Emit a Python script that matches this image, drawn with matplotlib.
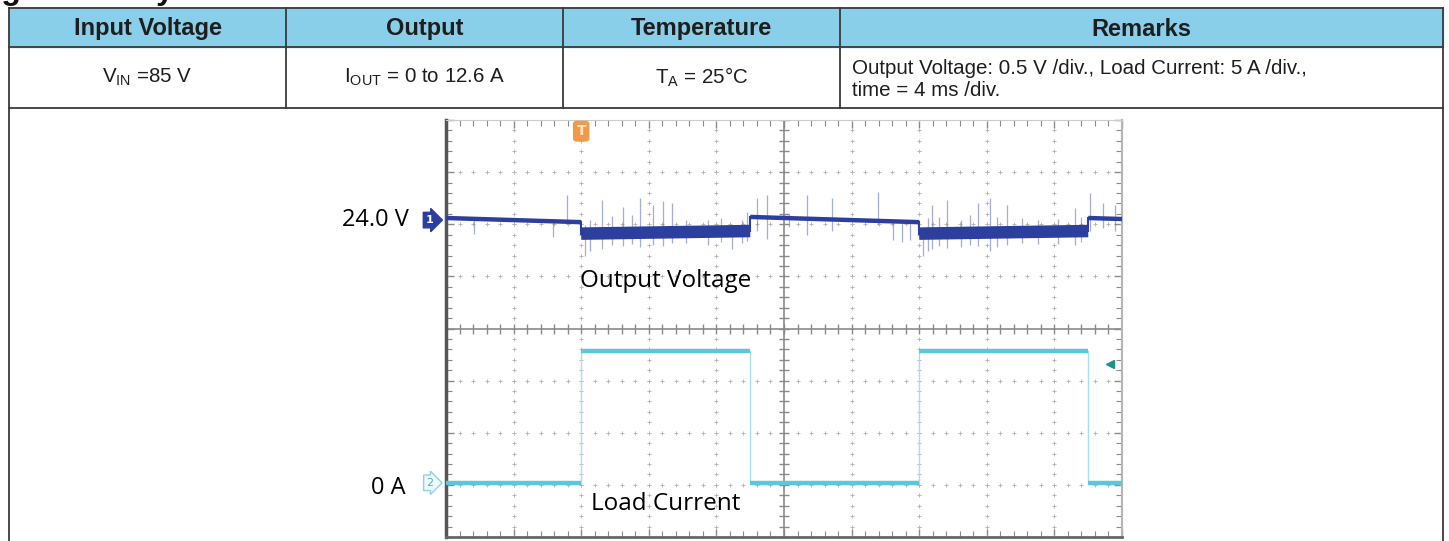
import matplotlib
matplotlib.use("Agg")
import matplotlib.pyplot as plt
import numpy as np

plt.rcParams['mathtext.fontset'] = 'custom'
plt.rcParams['mathtext.rm'] = 'Liberation Sans'
plt.rcParams['mathtext.bf'] = 'Liberation Sans:bold'

# Tabela de condições
headers = ["Input Voltage", "Output", "Temperature", "Remarks"]
conditions = [r"V$_{\mathrm{IN}}$ =85 V", r"I$_{\mathrm{OUT}}$ = 0 to 12.6 A", r"T$_{\mathrm{A}}$ = 25°C"]
remarks = ["Output Voltage: 0.5 V /div., Load Current: 5 A /div.,", "time = 4 ms /div."]
title = "Figure 10. Dynamic Load Transient"

# Escalas do osciloscópio
ms_per_div = 4.0
v_per_div = 0.5
a_per_div = 5.0
ch1_ref = 24.0      # V, nível do marcador 1
ch1_pos = 2.08      # div
ch2_pos = -2.96     # div (0 A)

# Degraus de carga (ms) e valores
step_times = [0, 8, 18, 28, 38, 40]
load_current = [0, 12.6, 0, 12.6, 0]
vout_start = [24.02, 23.87, 24.03, 23.87, 24.02]
vout_end = [23.98, 23.895, 23.98, 23.895, 24.01]

# Picos de ruído na tensão de saída
spike_t = [1.66, 6.33, 7.16, 8.2, 8.5, 9.23, 9.8, 10.47, 11.0, 11.48, 12.25, 12.84, 13.37, 14.2,
           15.5, 16.3, 16.9, 17.5,
           17.81, 18.40, 18.99, 20.3, 21.36, 22.84, 25.56, 26.45, 26.98, 27.46,
           28.2, 28.5, 28.76, 29.2, 29.64, 30.5, 31.0, 31.48, 32.19, 32.6, 33.20, 34.1, 35.0,
           36.2, 37.22, 37.6,
           38.11, 38.88, 39.59]
spike_lo = [23.87, 23.84, 23.96, 23.66, 23.70, 23.72, 23.76, 23.75, 23.77, 23.74, 23.76, 23.75, 23.78, 23.78,
            23.76, 23.79, 23.72, 23.78,
            23.80, 23.90, 23.82, 23.93, 23.86, 23.90, 23.95, 23.81, 23.79, 23.81,
            23.66, 23.70, 23.72, 23.75, 23.73, 23.74, 23.76, 23.75, 23.70, 23.74, 23.76, 23.78, 23.77,
            23.77, 23.76, 23.79,
            23.90, 23.92, 23.90]
spike_hi = [24.03, 24.00, 24.24, 23.95, 24.00, 24.19, 24.04, 24.13, 24.05, 24.21, 24.14, 24.18, 24.16, 24.00,
            24.00, 24.02, 23.95, 24.00,
            24.08, 24.21, 24.24, 24.06, 24.24, 24.21, 24.27, 24.00, 24.00, 24.00,
            23.90, 24.02, 24.14, 24.03, 24.19, 24.00, 24.05, 24.16, 24.21, 24.03, 24.14, 24.02, 24.00,
            24.01, 24.12, 24.03,
            24.26, 24.16, 24.14]

trig_time = 8.0
trig_level = 11.4

W, H = 1449, 541
fig = plt.figure(figsize=(W / 100, H / 100), dpi=100)

# ---- página / tabela (coordenadas em pixels)
page = fig.add_axes([0, 0, 1, 1])
page.set_xlim(0, W)
page.set_ylim(H, 0)
page.axis('off')

col_edges = [9, 286, 563, 840, 1443]
row_edges = [8, 47, 108]
line_c = '#3a3a3a'
txt_c = '#1e1e1e'

# título cortado no topo (só as hastes descendentes aparecem)
page.text(-27, -1, title, fontsize=23, fontweight='bold', family='Liberation Sans',
          va='baseline', ha='left', color='#111111')

page.fill_between([col_edges[0], col_edges[-1]], row_edges[0], row_edges[1], color='#8ACFEA', zorder=0)
for y in row_edges:
    page.plot([col_edges[0], col_edges[-1]], [y, y], color=line_c, lw=1.3)
for x in col_edges[1:-1]:
    page.plot([x, x], [row_edges[0], row_edges[-1]], color=line_c, lw=1.3)
for x in (col_edges[0], col_edges[-1]):
    page.plot([x, x], [row_edges[0], H], color=line_c, lw=1.3)

for i, h in enumerate(headers):
    xc = (col_edges[i] + col_edges[i + 1]) / 2
    page.text(xc, 29, h, ha='center', va='center', fontsize=17, fontweight='bold',
              family='Liberation Sans', color=txt_c)
for i, c in enumerate(conditions):
    xc = (col_edges[i] + col_edges[i + 1]) / 2
    page.text(xc, 77, c, ha='center', va='center', fontsize=14.8,
              family='Liberation Sans', color=txt_c)
page.text(col_edges[3] + 12, 68, remarks[0], ha='left', va='center', fontsize=14.8,
          family='Liberation Sans', color=txt_c)
page.text(col_edges[3] + 12, 90, remarks[1], ha='left', va='center', fontsize=14.8,
          family='Liberation Sans', color=txt_c)

# ---- osciloscópio
sx0, sx1, sy0, sy1 = 446, 1122, 120, 537
rect = [sx0 / W, 1 - sy1 / H, (sx1 - sx0) / W, (sy1 - sy0) / H]

grid = fig.add_axes(rect)
grid.set_xlim(0, 10)
grid.set_ylim(-4, 4)
grid.set_facecolor('white')
fine_x = np.arange(0, 10.01, 0.2)
fine_y = np.arange(-4, 4.01, 0.2)
for j in [-3, -2, -1, 1, 2, 3]:
    grid.plot(fine_x, np.full_like(fine_x, j), ls='none', marker='+', ms=3.5, mew=0.7, color='#b8b8b8')
for i in [1, 2, 3, 4, 6, 7, 8, 9]:
    grid.plot(np.full_like(fine_y, i), fine_y, ls='none', marker='+', ms=3.5, mew=0.7, color='#b8b8b8')
grid.axhline(0, color='#8a8a8a', lw=1.2)
grid.axvline(5, color='#8a8a8a', lw=1.2)
grid.plot(fine_x, np.zeros_like(fine_x), ls='none', marker='|', ms=7, mew=1.0, color='#8a8a8a')
grid.plot(np.full_like(fine_y, 5), fine_y, ls='none', marker='_', ms=7, mew=1.0, color='#8a8a8a')
grid.set_xticks(np.arange(0, 11, 1))
grid.set_yticks(np.arange(-4, 5, 1))
grid.set_xticks(fine_x, minor=True)
grid.set_yticks(fine_y, minor=True)
grid.tick_params(which='both', direction='in', top=True, right=True, labelleft=False,
                 labelbottom=False, color='#8a8a8a')
grid.tick_params(which='major', length=6, width=1)
grid.tick_params(which='minor', length=4, width=0.8)
grid.spines['left'].set_color('#555555')
grid.spines['left'].set_linewidth(2.5)
grid.spines['bottom'].set_color('#666666')
grid.spines['bottom'].set_linewidth(2)
grid.spines['top'].set_color('#cccccc')
grid.spines['right'].set_color('#b5b5b5')
grid.spines['right'].set_linewidth(1.5)

# eixo da tensão (canal 1)
ax_v = fig.add_axes(rect, frameon=False)
ax_v.set_xlim(0, 10 * ms_per_div)
ax_v.set_ylim(ch1_ref - (4 + ch1_pos) * v_per_div, ch1_ref + (4 - ch1_pos) * v_per_div)
ax_v.axis('off')

# eixo da corrente (canal 2)
ax_i = fig.add_axes(rect, frameon=False)
ax_i.set_xlim(0, 10 * ms_per_div)
ax_i.set_ylim((-4 - ch2_pos) * a_per_div, (4 - ch2_pos) * a_per_div)
ax_i.axis('off')

v_col = '#2d3f9e'
i_col = '#5cc6da'

ax_v.vlines(spike_t, spike_lo, spike_hi, color='#5a6bbd', lw=0.9, alpha=0.55, zorder=2)
for k in range(len(load_current)):
    t0, t1 = step_times[k], step_times[k + 1]
    heavy = load_current[k] > 0
    ax_v.plot([t0, t1], [vout_start[k], vout_end[k]], color=v_col,
              lw=9 if heavy else 3.2, solid_capstyle='butt', zorder=3)
    ax_i.plot([t0, t1], [load_current[k], load_current[k]], color=i_col, lw=3.2,
              solid_capstyle='butt', zorder=3)
for k in range(1, len(load_current)):
    t = step_times[k]
    ax_v.plot([t, t], [vout_end[k - 1], vout_start[k]], color=v_col, lw=1.5, zorder=3)
    ax_i.plot([t, t], [load_current[k - 1], load_current[k]], color='#a9dfea', lw=1.0, zorder=2)

# marcadores de canal
ax_v.text(-0.95, ch1_ref, '1', ha='center', va='center', fontsize=8, fontweight='bold',
          color='white', clip_on=False,
          bbox=dict(boxstyle='rarrow,pad=0.25', fc=v_col, ec=v_col))
ax_i.text(-0.95, 0, '2', ha='center', va='center', fontsize=8, color='#5aaab8', clip_on=False,
          bbox=dict(boxstyle='rarrow,pad=0.25', fc='#eef9fb', ec='#8fd3e0'))
ax_v.text(-2.2, ch1_ref, '24.0 V', ha='right', va='center', fontsize=17, family='Open Sans',
          color='black', clip_on=False)
ax_i.text(-2.4, -0.5, '0 A', ha='right', va='center', fontsize=17, family='Open Sans',
          color='black', clip_on=False)
ax_v.text(trig_time, ax_v.get_ylim()[1] - 0.04, 'T', ha='center', va='top', fontsize=10,
          fontweight='bold', color='#fde8d0', clip_on=False,
          bbox=dict(boxstyle='round,pad=0.2', fc='#f09a4a', ec='#f09a4a'))
ax_i.plot([39.3], [trig_level], marker='<', ms=6, color='#1f8f8f', ls='none', clip_on=False)

ax_v.text(7.9, 23.42, 'Output Voltage', ha='left', va='center', fontsize=17.5, family='Open Sans',
          color='black')
ax_i.text(8.6, -2.0, 'Load Current', ha='left', va='center', fontsize=17.5, family='Open Sans',
          color='black')

fig.savefig('out.png', dpi=100)
